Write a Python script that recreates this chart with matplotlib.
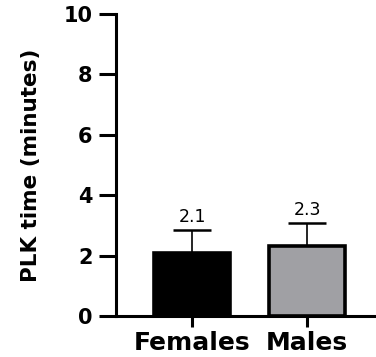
import matplotlib
matplotlib.use("Agg")
import matplotlib.pyplot as plt

plt.rcParams['font.family'] = ['DejaVu Sans']

groups = ['Females', 'Males']
means = [2.1, 2.3]
sd_upper = [0.75, 0.78]
bar_colors = ['#000000', '#a0a0a4']
yticks = [0, 2, 4, 6, 8, 10]

fig = plt.figure(figsize=(3.76, 3.57), dpi=100)
ax = fig.add_axes([0.3085, 0.115, 0.6885, 0.846])

x = list(range(len(groups)))
ax.bar(x, means, width=0.66, color=bar_colors, edgecolor='black', linewidth=2.6, zorder=2)
ax.errorbar(x, means, yerr=[[0] * len(means), sd_upper], fmt='none', ecolor='black',
            elinewidth=1.2, capsize=14, capthick=1.8, zorder=1)

for xi, m, e in zip(x, means, sd_upper):
    ax.annotate(f'{m:.1f}', (xi, m + e), xytext=(0, 3), textcoords='offset points',
                ha='center', va='bottom', fontsize=12.5)

ax.set_xlim(-0.661, 1.59)
ax.set_ylim(0, 10)
ax.set_yticks(yticks)
ax.set_xticks(x)
ax.set_xticklabels(groups, fontsize=18, fontweight='bold')
ax.set_yticklabels([str(t) for t in yticks], fontsize=15, fontweight='bold')
ax.set_ylabel('PLK time (minutes)', fontsize=15.5, fontweight='bold', labelpad=16)

for side in ['top', 'right']:
    ax.spines[side].set_visible(False)
for side in ['left', 'bottom']:
    ax.spines[side].set_linewidth(2.2)
ax.tick_params(axis='y', width=2.2, length=12, pad=5)
ax.tick_params(axis='x', width=2.2, length=8, pad=3)

fig.savefig('out.png', dpi=100)
